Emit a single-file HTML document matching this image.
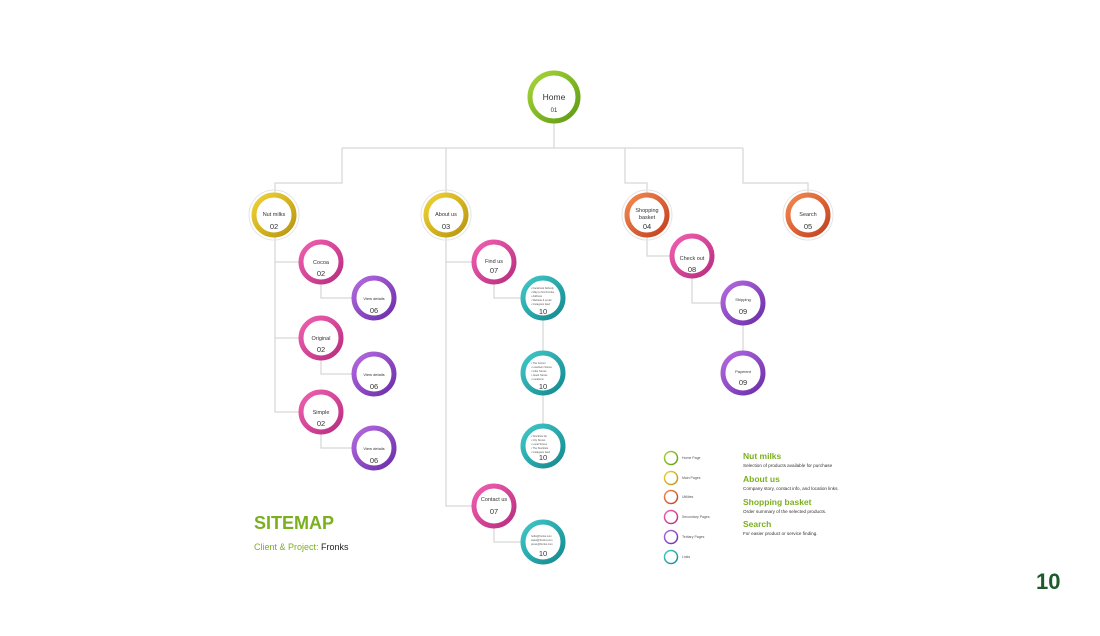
<!DOCTYPE html>
<html><head><style>
body{margin:0;background:#fff;}
svg{display:block;font-family:"Liberation Sans",sans-serif;}
</style></head><body>
<svg width="1100" height="636" viewBox="0 0 1100 636">
<defs>
<linearGradient id="gG" x1="0" y1="0" x2="1" y2="1"><stop offset="0" stop-color="#a8d63a"/><stop offset="1" stop-color="#5e9a12"/></linearGradient>
<linearGradient id="gY" x1="0" y1="0" x2="1" y2="1"><stop offset="0" stop-color="#f0d235"/><stop offset="1" stop-color="#b8960e"/></linearGradient>
<linearGradient id="gO" x1="0" y1="0" x2="1" y2="1"><stop offset="0" stop-color="#f4894f"/><stop offset="1" stop-color="#c2401f"/></linearGradient>
<linearGradient id="gP" x1="0" y1="0" x2="1" y2="1"><stop offset="0" stop-color="#f060b0"/><stop offset="1" stop-color="#b82d80"/></linearGradient>
<linearGradient id="gV" x1="0" y1="0" x2="1" y2="1"><stop offset="0" stop-color="#b56ae0"/><stop offset="1" stop-color="#6a2ea8"/></linearGradient>
<linearGradient id="gT" x1="0" y1="0" x2="1" y2="1"><stop offset="0" stop-color="#40c8c8"/><stop offset="1" stop-color="#14898f"/></linearGradient>
</defs>
<g stroke="#d6d6d6" stroke-width="1.2" fill="none">
<path d="M554 123V148M342 148H743M342 148V183H275V195M446 148V195M625 148V183H647V195M743 148V183H808V195"/>
<path d="M275 236V412H300M275 262H300M275 338H300"/>
<path d="M321 283V298H353M321 359V374H353M321 433V448H353"/>
<path d="M446 236V506H473M446 262H473"/>
<path d="M494 283V298H522M543 319V446M494 527V542H522"/>
<path d="M647 236V256H671M692 277V303H722M743 324V373"/>
</g>
<g fill="none" stroke="#e4e4e4" stroke-width="1">
<circle cx="274" cy="215" r="25"/><circle cx="446" cy="215" r="25"/><circle cx="647" cy="215" r="25"/><circle cx="808" cy="215" r="25"/>
</g>
<g fill="#fff" stroke-width="5">
<circle cx="554" cy="97" r="24" stroke="url(#gG)"/>
<circle cx="274" cy="215" r="20" stroke="url(#gY)"/>
<circle cx="446" cy="215" r="20" stroke="url(#gY)"/>
<circle cx="647" cy="215" r="20" stroke="url(#gO)"/>
<circle cx="808" cy="215" r="20" stroke="url(#gO)"/>
<circle cx="321" cy="262" r="20" stroke="url(#gP)"/>
<circle cx="321" cy="338" r="20" stroke="url(#gP)"/>
<circle cx="321" cy="412" r="20" stroke="url(#gP)"/>
<circle cx="494" cy="262" r="20" stroke="url(#gP)"/>
<circle cx="494" cy="506" r="20" stroke="url(#gP)"/>
<circle cx="692" cy="256" r="20" stroke="url(#gP)"/>
<circle cx="374" cy="298" r="20" stroke="url(#gV)"/>
<circle cx="374" cy="374" r="20" stroke="url(#gV)"/>
<circle cx="374" cy="448" r="20" stroke="url(#gV)"/>
<circle cx="743" cy="303" r="20" stroke="url(#gV)"/>
<circle cx="743" cy="373" r="20" stroke="url(#gV)"/>
<circle cx="543" cy="298" r="20" stroke="url(#gT)"/>
<circle cx="543" cy="373" r="20" stroke="url(#gT)"/>
<circle cx="543" cy="446" r="20" stroke="url(#gT)"/>
<circle cx="543" cy="542" r="20" stroke="url(#gT)"/>
</g>
<g fill="#333" text-anchor="middle">
<text x="554" y="100" font-size="8.5">Home</text><text x="554" y="112" font-size="6">01</text>
<g font-size="5.5">
<text x="274" y="216">Nut milks</text><text x="446" y="216">About us</text>
<text x="647" y="212">Shopping</text><text x="647" y="219">basket</text>
<text x="808" y="216">Search</text>
<text x="321" y="264">Cocoa</text><text x="321" y="340">Original</text><text x="321" y="414">Simple</text>
<text x="494" y="263">Find us</text><text x="494" y="501">Contact us</text><text x="692" y="260">Check out</text>
<text x="743" y="301" font-size="4">Shipping</text><text x="743" y="373" font-size="4">Payment</text>
<text x="374" y="300" font-size="4">View details</text><text x="374" y="376" font-size="4">View details</text><text x="374" y="450" font-size="4">View details</text>
</g>
<g font-size="7.5">
<text x="274" y="229">02</text><text x="446" y="229">03</text><text x="647" y="229">04</text><text x="808" y="229">05</text>
<text x="321" y="276">02</text><text x="321" y="352">02</text><text x="321" y="426">02</text>
<text x="494" y="273">07</text><text x="494" y="514">07</text><text x="692" y="272">08</text>
<text x="374" y="313">06</text><text x="374" y="389">06</text><text x="374" y="463">06</text>
<text x="743" y="314">09</text><text x="743" y="385">09</text>
<text x="543" y="314">10</text><text x="543" y="389">10</text><text x="543" y="460">10</text><text x="543" y="556">10</text>
</g>
</g>
<g fill="#555" font-size="2.6">
<text x="531" y="289">• Facebook Nobody</text><text x="531" y="293">• Map to find Fronks</text><text x="531" y="297">• Address</text><text x="531" y="301">• Website &amp; email</text><text x="531" y="305">• Instagram feed</text>
<text x="531" y="364">• The Grocer</text><text x="531" y="368">• Lowdown Stores</text><text x="531" y="372">• Indie Stores</text><text x="531" y="376">• Jewel Stores</text><text x="531" y="380">• Locations</text>
<text x="531" y="437">• Stockists list</text><text x="531" y="441">• City Stores</text><text x="531" y="445">• Local Stores</text><text x="531" y="449">• The Stockists</text><text x="531" y="453">• Instagram feed</text>
<text x="531" y="537">hello@fronks.com</text><text x="531" y="541">sales@fronks.com</text><text x="531" y="545">press@fronks.com</text>
</g>
<g fill="none" stroke-width="1.5">
<circle cx="671" cy="458" r="6.5" stroke="url(#gG)"/>
<circle cx="671" cy="478" r="6.5" stroke="url(#gY)"/>
<circle cx="671" cy="497" r="6.5" stroke="url(#gO)"/>
<circle cx="671" cy="517" r="6.5" stroke="url(#gP)"/>
<circle cx="671" cy="537" r="6.5" stroke="url(#gV)"/>
<circle cx="671" cy="557" r="6.5" stroke="url(#gT)"/>
</g>
<g fill="#555" font-size="3.5">
<text x="682" y="459">Home Page</text><text x="682" y="479">Main Pages</text><text x="682" y="498">Utilities</text>
<text x="682" y="518">Secondary Pages</text><text x="682" y="538">Tertiary Pages</text><text x="682" y="558">Links</text>
</g>
<g font-size="8.5" font-weight="bold" fill="#7ab01e">
<text x="743" y="459">Nut milks</text><text x="743" y="482">About us</text><text x="743" y="505">Shopping basket</text><text x="743" y="527">Search</text>
</g>
<g font-size="4.6" fill="#333">
<text x="743" y="467">Selection of products available for purchase</text>
<text x="743" y="490">Company story, contact info, and location links.</text>
<text x="743" y="513">Order summary of the selected products.</text>
<text x="743" y="535">For easier product or service finding.</text>
</g>
<text x="254" y="529" font-size="18" font-weight="bold" fill="#7ab01e">SITEMAP</text>
<text x="254" y="550" font-size="9" fill="#7ab01e">Client &amp; Project: <tspan fill="#222">Fronks</tspan></text>
<text x="1036" y="589" font-size="22" font-weight="bold" fill="#1d5a2c">10</text>
</svg>
</body></html>
